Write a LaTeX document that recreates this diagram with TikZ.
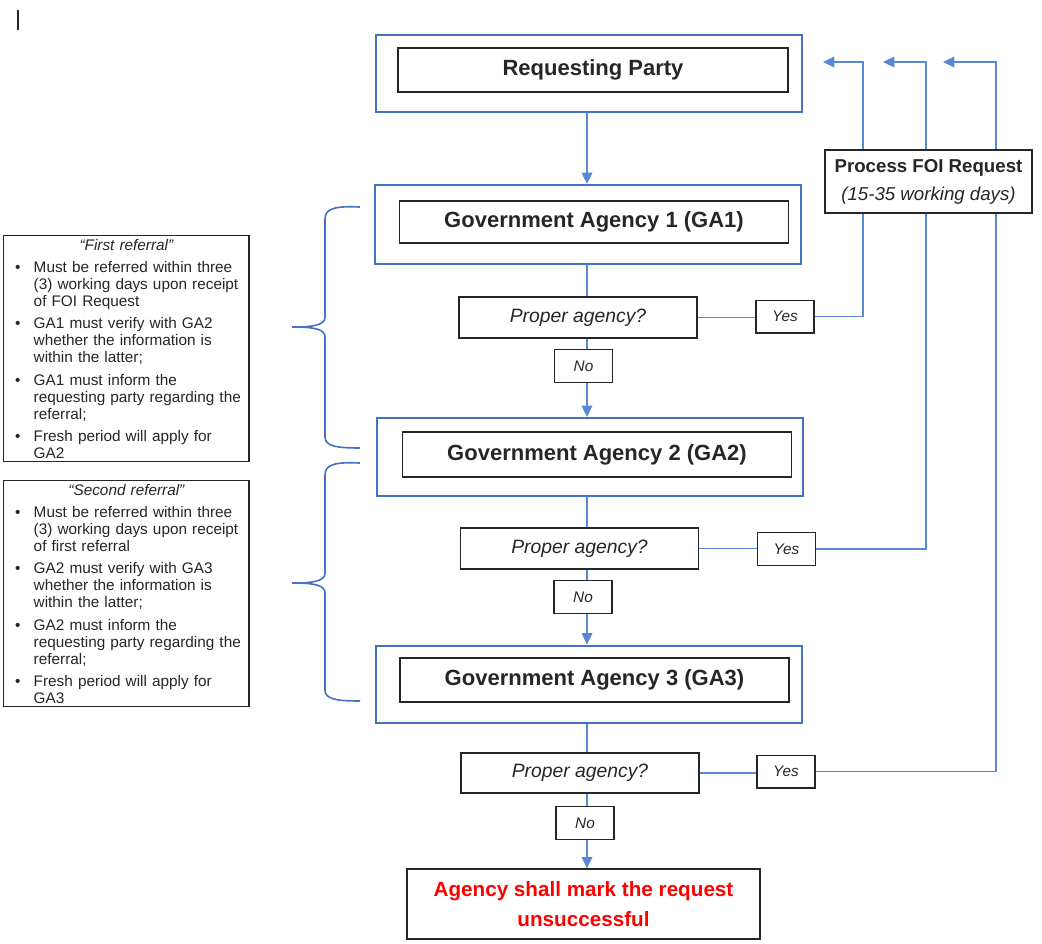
\documentclass[tikz,border=0pt]{standalone}
\usepackage{fontspec}
\setmainfont{Liberation Sans}
\usetikzlibrary{arrows.meta}
\definecolor{obl}{RGB}{68,114,196}
\definecolor{cbl}{RGB}{90,136,214}
\definecolor{dk}{RGB}{38,38,38}
\definecolor{rd}{RGB}{255,0,0}
\newenvironment{notelist}{\begin{list}{\textbullet}{%
  \setlength{\leftmargin}{20.5pt}\setlength{\labelwidth}{8pt}%
  \setlength{\labelsep}{10pt}\setlength{\itemsep}{4pt}%
  \setlength{\parsep}{0pt}\setlength{\topsep}{0pt}%
  \setlength{\partopsep}{0pt}\setlength{\rightmargin}{0pt}}}{\end{list}}
\tikzset{
  outerbox/.style={draw=obl, line width=1.5pt, minimum width=319.5pt, minimum height=58pt, inner sep=0pt},
  innerbox/.style={draw=dk, line width=1pt, minimum width=291.75pt, minimum height=33pt, inner sep=0pt,
    font=\fontsize{16.5}{19}\selectfont\bfseries, text=dk},
  qbox/.style={draw=dk, line width=1pt, minimum width=178.5pt, minimum height=30.75pt, inner sep=0pt,
    font=\fontsize{14.5}{17}\selectfont\itshape, text=dk},
  ynbox/.style={draw=dk, line width=1pt, minimum width=43.5pt, minimum height=24.5pt, inner sep=0pt,
    font=\fontsize{11.5}{13}\selectfont\itshape, text=dk},
  conn/.style={draw=cbl, line width=0.9pt},
  arr/.style={conn, -{Triangle[length=8.5pt,width=8pt]}},
  notebox/.style={draw=dk, line width=1.1pt, text width=180pt, inner xsep=2pt, inner ysep=1pt,
    minimum height=169.5pt, anchor=north west, align=left,
    font=\fontsize{11.5}{12.75}\selectfont, text=dk},
  bracestroke/.style={draw=obl, line width=1.2pt},
}
\begin{document}
\begin{tikzpicture}[x=0.75pt, y=-0.75pt]
\fill[white] (0,0) rectangle (1042,943);
\useasboundingbox (0,0) rectangle (1042,943);

% stray mark top left
\draw[dk, line width=1.1pt] (18,10) -- (18,30);

% main column
\node[outerbox] (RPo) at (589,73.5) {};
\node[innerbox, minimum width=292.5pt] (RP) at (593,70) {Requesting Party};

\node[outerbox, minimum height=59.25pt] (GA1o) at (587.5,224.5) {};
\node[innerbox, minimum height=31.5pt] (GA1) at (594,222) {Government Agency 1 (GA1)};

\node[qbox] (PA1) at (578,317.5) {Proper agency?};
\node[ynbox] (Y1) at (785,316.5) {Yes};
\node[ynbox] (N1) at (583.5,366) {No};

\node[outerbox, minimum height=58.5pt] (GA2o) at (590,457) {};
\node[innerbox, minimum height=33.75pt] (GA2) at (597,454.5) {Government Agency 2 (GA2)};

\node[qbox] (PA2) at (579.5,548.5) {Proper agency?};
\node[ynbox] (Y2) at (786.5,549) {Yes};
\node[ynbox] (N2) at (583,597) {No};

\node[outerbox, minimum height=57.75pt] (GA3o) at (589,684) {};
\node[innerbox] (GA3) at (594.5,680) {Government Agency 3 (GA3)};

\node[qbox, minimum height=30pt] (PA3) at (580,773) {Proper agency?};
\node[ynbox] (Y3) at (786,771.5) {Yes};
\node[ynbox] (N3) at (585,823) {No};

\node[draw=dk, line width=1pt, minimum width=264.75pt, minimum height=52.5pt, inner sep=0pt,
  align=center, text=rd, font=\fontsize{15.5}{22.5}\selectfont\bfseries] (FIN) at (583.5,904)
  {Agency shall mark the request\\unsuccessful};

% spine connectors
\coordinate (sp) at (587,0);
\draw[arr] (RPo.south -| sp) -- (GA1o.north -| sp);
\draw[conn] (GA1o.south -| sp) -- (PA1.north -| sp);
\draw[conn] (PA1.south -| sp) -- (N1.north -| sp);
\draw[arr] (N1.south -| sp) -- (GA2o.north -| sp);
\draw[conn] (GA2o.south -| sp) -- (PA2.north -| sp);
\draw[conn] (PA2.south -| sp) -- (N2.north -| sp);
\draw[arr] (N2.south -| sp) -- (GA3o.north -| sp);
\draw[conn] (GA3o.south -| sp) -- (PA3.north -| sp);
\draw[conn] (PA3.south -| sp) -- (N3.north -| sp);
\draw[arr] (N3.south -| sp) -- (FIN.north -| sp);

% yes connectors
\coordinate (r1) at (863,62); \coordinate (t1) at (823,62);
\coordinate (r2) at (926,62); \coordinate (t2) at (883,62);
\coordinate (r3) at (996,62); \coordinate (t3) at (943,62);
\draw[conn] (PA1.east) -- (Y1.west |- PA1.east);
\draw[conn] (PA2.east) -- (Y2.west |- PA2.east);
\draw[conn] (PA3.east) -- (Y3.west |- PA3.east);
\draw[arr] (Y1.east) -| (r1) -- (t1);
\draw[arr] (Y2.east) -| (r2) -- (t2);
\draw[arr] (Y3.east) -| (r3) -- (t3);

% process box on top of the return lines
\node[draw=dk, fill=white, line width=1pt, minimum width=155.25pt, minimum height=47.25pt, inner sep=0pt,
  align=center, text=dk, font=\fontsize{14}{21}\selectfont] (FOI) at (928.5,181.5)
  {{\bfseries Process FOI Request}\\{\itshape (15-35 working days)}};

% braces
\draw[bracestroke] (360,207) .. controls (336,206) and (325,208) .. (325,219) -- (325,317)
  .. controls (325,325) and (314,327) .. (292,327) .. controls (314,327) and (325,329) .. (325,337)
  -- (325,437) .. controls (325,446) and (336,448) .. (360,448);
\draw[bracestroke] (360,463) .. controls (336,462) and (325,464) .. (325,475) -- (325,573)
  .. controls (325,581) and (314,583) .. (292,583) .. controls (314,583) and (325,585) .. (325,593)
  -- (325,690) .. controls (325,699) and (336,701) .. (360,701);

% note boxes
\node[notebox] (NB1) at (3,235) {%
  \makebox[\linewidth][c]{\itshape “First referral”}\par\vspace{4pt}%
  \begin{notelist}
  \item Must be referred within three\\(3) working days upon receipt\\of FOI Request
  \item GA1 must verify with GA2\\whether the information is\\within the latter;
  \item GA1 must inform the\\requesting party regarding the\\referral;
  \item Fresh period will apply for\\GA2
  \end{notelist}};
\node[notebox] (NB2) at (3,480) {%
  \makebox[\linewidth][c]{\itshape “Second referral”}\par\vspace{4pt}%
  \begin{notelist}
  \item Must be referred within three\\(3) working days upon receipt\\of first referral
  \item GA2 must verify with GA3\\whether the information is\\within the latter;
  \item GA2 must inform the\\requesting party regarding the\\referral;
  \item Fresh period will apply for\\GA3
  \end{notelist}};
\end{tikzpicture}
\end{document}
